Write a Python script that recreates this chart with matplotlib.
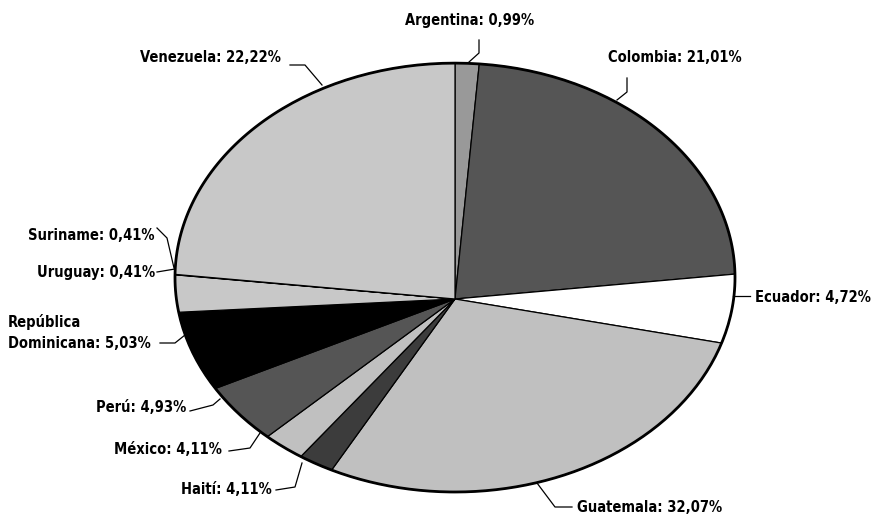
import numpy as np
import matplotlib
matplotlib.use('Agg')
import matplotlib.pyplot as plt
from matplotlib import font_manager as fm
from matplotlib.transforms import Transform
from matplotlib.path import Path
from matplotlib.patches import Circle

# data: countries clockwise from 12 o'clock
countries = ['Argentina', 'Colombia', 'Ecuador', 'Guatemala', 'Haití', 'México',
             'Perú', 'República\nDominicana', 'Uruguay', 'Suriname', 'Venezuela']
labels_pct = ['0,99%', '21,01%', '4,72%', '32,07%', '4,11%', '4,11%',
              '4,93%', '5,03%', '0,41%', '0,41%', '22,22%']
# slice sizes as drawn in the picture
drawn_share = [1.25, 21.9, 5.25, 29.6, 2.2, 2.6, 4.95, 6.25, 2.8, 0.03, 23.17]
colors = ['#999999', '#555555', '#ffffff', '#c0c0c0', '#3c3c3c', '#c0c0c0',
          '#555555', '#000000', '#c8c8c8', '#c8c8c8', '#c8c8c8']


class Tilt(Transform):
    # pie seen in perspective: unit circle -> pixel coords
    input_dims = 2
    output_dims = 2
    is_affine = False

    def __init__(self, cx, cy, a, b, k):
        Transform.__init__(self)
        self.cx, self.cy, self.a, self.b, self.k = cx, cy, a, b, k

    def transform_non_affine(self, values):
        v = np.asarray(values, float)
        x, y = v[:, 0], v[:, 1]
        w = 1 - self.k * y
        return np.column_stack([self.cx + self.a * x / w, self.cy + self.b * y / w])

    def transform_path_non_affine(self, path):
        pts = []
        for seg, code in path.iter_bezier():
            if seg.degree == 0:
                pts.append(seg.control_points)
            else:
                pts.append(seg(np.linspace(0, 1, 40)))
        return Path(self.transform_non_affine(np.vstack(pts)))


def pick_font():
    # a narrow bold face if there is one, else plain Liberation Sans bold
    narrow = ('condensed', 'semi-condensed', 'extra-condensed', 'ultra-condensed')
    best = None
    for f in fm.fontManager.ttflist:
        if not ('Narrow' in f.name or 'Condensed' in f.name or f.stretch in narrow):
            continue
        if 'Italic' in f.fname or 'Oblique' in f.fname or f.style != 'normal':
            continue
        w = f.weight if isinstance(f.weight, int) else 700 if 'bold' in str(f.weight) else 400
        score = -abs(w - 700)
        if best is None or score > best[0]:
            best = (score, f.fname)
    if best is not None:
        return fm.FontProperties(fname=best[1])
    return fm.FontProperties(family=['Liberation Sans', 'DejaVu Sans'], weight='bold')


fig = plt.figure(figsize=(8.8, 5.21), dpi=100)
ax = fig.add_axes([0, 0, 1, 1])

H = 521
tilt = Tilt(455, H - 299, 278.6, 212.3, 0.1)

wedges, _ = ax.pie(drawn_share, colors=colors, startangle=90, counterclock=False,
                   radius=1, wedgeprops=dict(edgecolor='black', linewidth=0.9))
for w in wedges:
    w.set_transform(tilt + ax.transData)
rim = Circle((0, 0), 1, fill=False, edgecolor='black', linewidth=2.0)
ax.add_patch(rim)
rim.set_transform(tilt + ax.transData)

ax.set_xlim(0, 880)
ax.set_ylim(0, H)
ax.set_aspect('auto')
ax.axis('off')

fp = pick_font()
# size the font so "Venezuela: 22,22%" is about 141 px wide, as in the reference
probe = ax.text(0, 0, 'Venezuela: 22,22%', fontproperties=fp, fontsize=10)
fig.canvas.draw()
wpx = probe.get_window_extent().width
probe.remove()
fs = min(10 * 141.0 / wpx, 17)

# label layout in pixels: text x, text y, align, leader polyline
layout = {
    'Argentina': (405, 20, 'left', [(479, 40), (479, 53), (469, 62)]),
    'Colombia': (608, 58, 'left', [(627, 78), (627, 92), (617, 100)]),
    'Ecuador': (755, 297, 'left', [(733, 296), (750, 296)]),
    'Guatemala': (577, 507, 'left', [(537, 483), (555, 507), (572, 507)]),
    'Haití': (272, 490, 'right', [(276, 490), (295, 487), (302, 463)]),
    'México': (222, 450, 'right', [(229, 451), (250, 448), (260, 433)]),
    'Perú': (186, 407, 'right', [(190, 411), (213, 405), (220, 399)]),
    'República\nDominicana': (8, 333, 'left', [(160, 343), (175, 343), (185, 335)]),
    'Uruguay': (155, 273, 'right', [(157, 272), (175, 269)]),
    'Suriname': (154, 235, 'right', [(157, 228), (167, 238), (174, 268)]),
    'Venezuela': (281, 58, 'right', [(290, 65), (305, 65), (322, 85)]),
}

for name, pct in zip(countries, labels_pct):
    tx, ty, ha, leader = layout[name]
    ax.text(tx, H - ty, name + ': ' + pct, ha=ha, va='center', fontsize=fs,
            fontproperties=fp, linespacing=1.5)
    lx = [p[0] for p in leader]
    ly = [H - p[1] for p in leader]
    ax.plot(lx, ly, color='black', linewidth=0.9)

fig.savefig('out.png', dpi=100)
